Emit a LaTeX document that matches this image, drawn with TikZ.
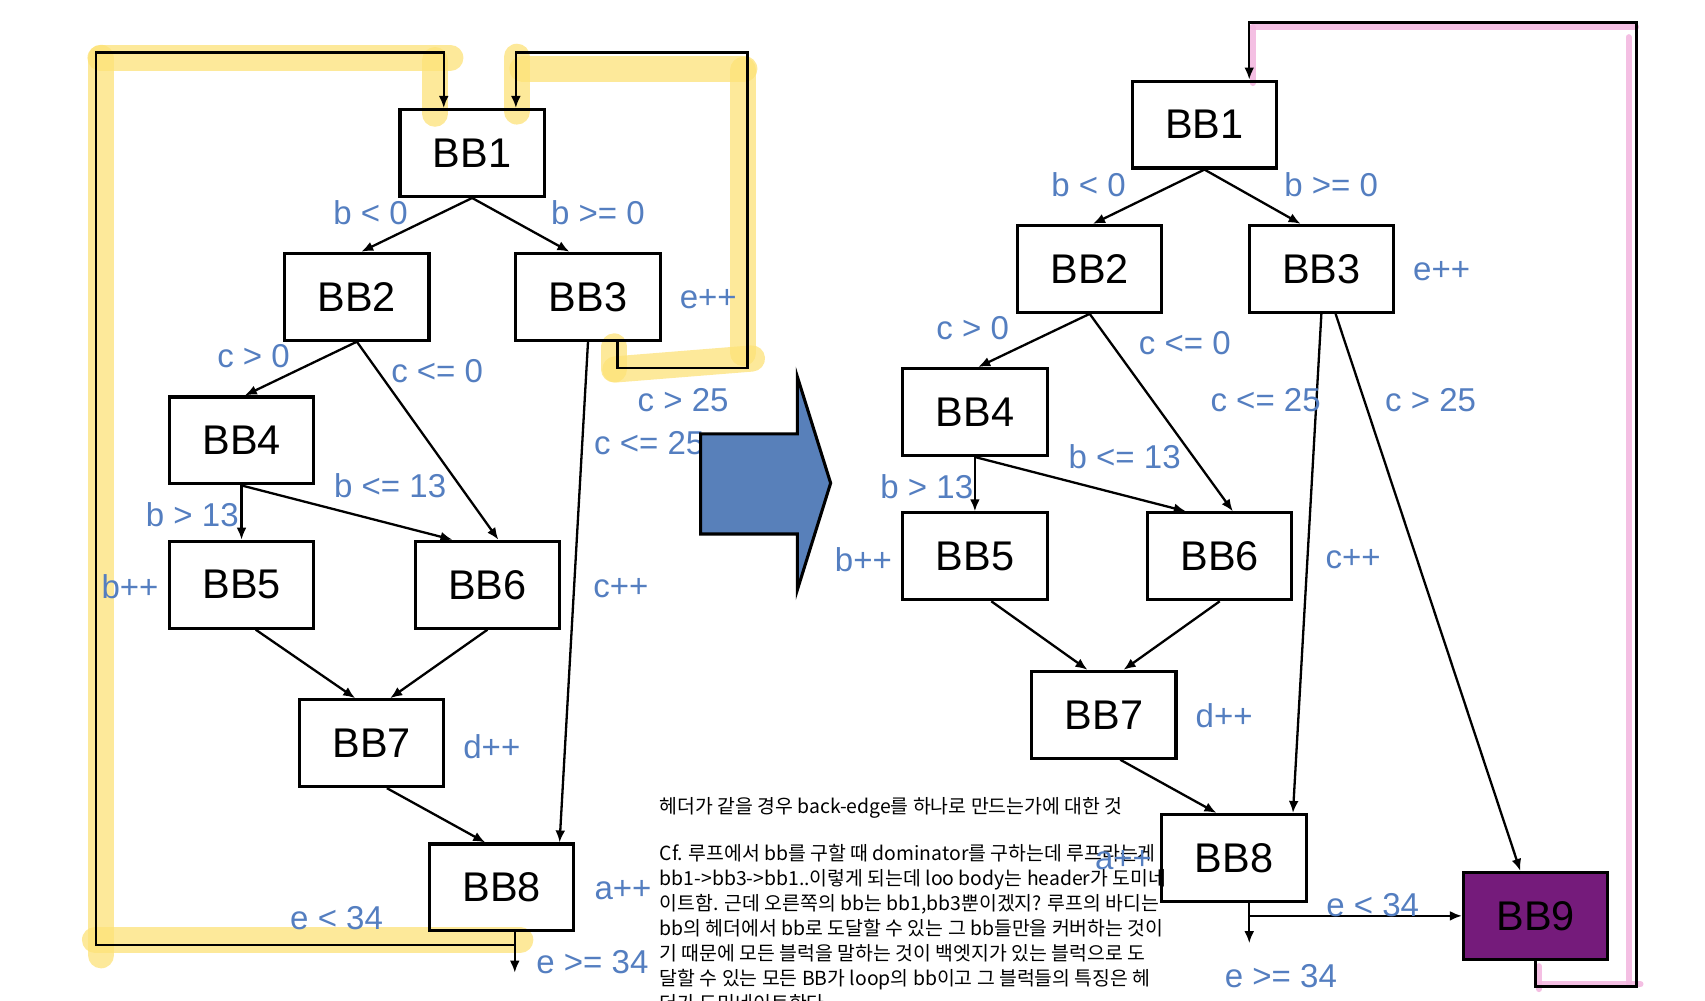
\documentclass[tikz,border=0pt]{standalone}
\usepackage{fontspec}
\setmainfont{Liberation Sans}
\newfontfamily\kr{Noto Sans CJK KR}
\usetikzlibrary{arrows.meta,calc}
\definecolor{lblue}{RGB}{84,126,192}
\definecolor{arrowblue}{RGB}{88,128,186}
\definecolor{bbpurple}{RGB}{117,27,123}
\definecolor{hlyellow}{RGB}{253,226,120}
\definecolor{hlpink}{RGB}{242,180,222}
\begin{document}
\begin{tikzpicture}[x=0.1mm,y=-0.1mm,
  bb/.style={draw,line width=0.8pt,minimum width=13.2mm,minimum height=7.95mm,inner sep=0pt,font=\fontsize{10.8}{12}\selectfont},
  lbl/.style={text=lblue,font=\fontsize{8.6}{10}\selectfont,inner sep=0pt},
  edge/.style={line width=0.6pt,-{Latex[length=1.1mm,width=0.9mm]}},
  hl/.style={line width=2.4mm,draw=hlyellow,opacity=0.75,line cap=round,line join=round},
  pk/.style={line width=0.55mm,draw=hlpink,opacity=0.85,line cap=round,line join=round},
]
\useasboundingbox (0,0) rectangle (1560,915);
\clip (0,0) rectangle (1560,915);

% ---------- yellow highlights (left) ----------
\draw[hl] (92.5,53) -- (92.5,874);
\draw[hl] (92,53) -- (412,53);
\draw[hl] (398,55) -- (398,104);
\draw[hl] (87,860) -- (476,860);
\draw[hl] (473,52) -- (473,102);
\draw[hl] (478,63) -- (681,63);
\draw[hl] (680,64) -- (680,323);
\draw[hl] (563,338) -- (688,328);
\draw[hl] (562,317) -- (562,338);

% ---------- pink highlights (right) ----------
\draw[pk] (1146,24.5) -- (1497,24.5);
\draw[pk] (1146,25) -- (1146,76);
\draw[pk] (1490,34) -- (1490,900);
\draw[pk] (1406,900.5) -- (1501,900.5);
\draw[pk] (1408,884) -- (1408,905);

% ---------- left graph ----------
\node[bb] (l1) at (432,140) {BB1};
\node[bb] (l2) at (326.5,271.5) {BB2};
\node[bb] (l3) at (538,271.5) {BB3};
\node[bb] (l4) at (221,403) {BB4};
\node[bb] (l5) at (221,535) {BB5};
\node[bb] (l6) at (446,535) {BB6};
\node[bb] (l7) at (340,680) {BB7};
\node[bb] (l8) at (459,812) {BB8};

\draw[edge] (l1.south) -- ($(l2.north)+(4,0)$);
\draw[edge] (l1.south) -- ($(l3.north)+(-17,0)$);
\draw[edge] (l2.south) -- ($(l4.north)+(3,0)$);
\draw[edge] (l2.south) -- ($(l6.north)+(10,0)$);
\draw[edge] (l4.south) -- (l5.north);
\draw[edge] (l4.south) -- ($(l6.north)+(-32,0)$);
\draw[edge] ($(l5.south)+(13,0)$) -- ($(l7.north)+(-15,0)$);
\draw[edge] (l6.south) -- ($(l7.north)+(17,0)$);
\draw[edge] ($(l7.south)+(14,0)$) -- ($(l8.north)+(-15,0)$);
\draw[edge] (l3.south) -- ($(l8.north)+(53,0)$);

\coordinate (lend) at (471,890);
\coordinate (lb0) at (471,864.5);
\coordinate (lc1) at (88,864.5);
\coordinate (lc2) at (88,48);
\coordinate (lc3) at (406,48);
\draw[edge] ($(l8.south)+(12,0)$) -- (lend);
\draw[edge] (lb0) -- (lc1) -- (lc2) -- (lc3) -- ($(l1.north)+(-26,0)$);

\coordinate (lr0) at (565,337);
\coordinate (lr1) at (684,337);
\coordinate (lr2) at (684,48);
\coordinate (lr3) at (472,48);
\draw[edge] ($(l3.south)+(27,0)$) -- (lr0) -- (lr1) -- (lr2) -- (lr3) -- ($(l1.north)+(40,0)$);

\node[lbl] at (339,195) {b < 0};
\node[lbl] at (547,195) {b >= 0};
\node[lbl] at (648,274) {e++};
\node[lbl] at (232,326) {c > 0};
\node[lbl] at (400,340) {c <= 0};
\node[lbl] at (625,366) {c > 25};
\node[lbl] at (594,405) {c <= 25};
\node[lbl] at (357,444) {b <= 13};
\node[lbl] at (176,471) {b > 13};
\node[lbl] at (119,537) {b++};
\node[lbl] at (568,538) {c++};
\node[lbl] at (450,683) {d++};
\node[lbl] at (570,814) {a++};
\node[lbl] at (308,840) {e < 34};
\node[lbl] at (542,880) {e >= 34};

% ---------- big arrow ----------
\draw[fill=arrowblue,line width=0.8pt,line join=miter]
  (641,397) -- (729.5,397) -- (729.5,344.6) -- (760,442) -- (729.5,539.8) -- (729.5,488.6) -- (641,488.6) -- cycle;

% ---------- right graph ----------
\node[bb] (r1) at (1102,114) {BB1};
\node[bb] (r2) at (997,246) {BB2};
\node[bb] (r3) at (1209,246) {BB3};
\node[bb] (r4) at (892,377) {BB4};
\node[bb] (r5) at (892,509) {BB5};
\node[bb] (r6) at (1116,509) {BB6};
\node[bb] (r7) at (1010,654) {BB7};
\node[bb] (r8) at (1129,785) {BB8};
\node[bb,fill=bbpurple] (r9) at (1405,838) {BB9};

\draw[edge] (r1.south) -- ($(r2.north)+(3,0)$);
\draw[edge] (r1.south) -- ($(r3.north)+(-19,0)$);
\draw[edge] (r2.south) -- ($(r4.north)+(3,0)$);
\draw[edge] (r2.south) -- ($(r6.north)+(12,0)$);
\draw[edge] (r4.south) -- (r5.north);
\draw[edge] (r4.south) -- ($(r6.north)+(-31,0)$);
\draw[edge] ($(r5.south)+(15,0)$) -- ($(r7.north)+(-15,0)$);
\draw[edge] (r6.south) -- ($(r7.north)+(18,0)$);
\draw[edge] ($(r7.south)+(15,0)$) -- ($(r8.north)+(-16,0)$);
\draw[edge] (r3.south) -- ($(r8.north)+(54,0)$);
\draw[edge] ($(r3.south)+(13,0)$) -- ($(r9.north)+(-14,0)$);

\coordinate (rend) at (1143,863);
\coordinate (rsplit) at (1143,838);
\draw[edge] ($(r8.south)+(14,0)$) -- (rend);
\draw[edge] (rsplit) -- (r9.west);

\coordinate (rc1) at (1405,902.7);
\coordinate (rc2) at (1497.4,902.7);
\coordinate (rc3) at (1497.4,20.7);
\coordinate (rc4) at (1143,20.7);
\draw[edge] (r9.south) -- (rc1) -- (rc2) -- (rc3) -- (rc4) -- ($(r1.north)+(41,0)$);

\node[lbl] at (996,169) {b < 0};
\node[lbl] at (1218,169) {b >= 0};
\node[lbl] at (1319,248) {e++};
\node[lbl] at (890,300) {c > 0};
\node[lbl] at (1084,314) {c <= 0};
\node[lbl] at (1158,366) {c <= 25};
\node[lbl] at (1309,366) {c > 25};
\node[lbl] at (1029,418) {b <= 13};
\node[lbl] at (848,445) {b > 13};
\node[lbl] at (790,512) {b++};
\node[lbl] at (1238,512) {c++};
\node[lbl] at (1120,655) {d++};
\node[lbl] at (1256,828) {e < 34};
\node[lbl] at (1172,893) {e >= 34};

% ---------- note text ----------
\node[anchor=base west,align=left,inner sep=0pt,font=\kr\fontsize{5.05}{6.52}\selectfont] (note) at (603,924.5)
{헤더가 같을 경우 back-edge를 하나로 만드는가에 대한 것\\[5.7pt]
Cf. 루프에서 bb를 구할 때 dominator를 구하는데 루프라는게\\
bb1->bb3->bb1..이렇게 되는데 loo body는 header가 도미네\\
이트함. 근데 오른쪽의 bb는 bb1,bb3뿐이겠지? 루프의 바디는\\
bb의 헤더에서 bb로 도달할 수 있는 그 bb들만을 커버하는 것이\\
기 때문에 모든 블럭을 말하는 것이 백엣지가 있는 블럭으로 도\\
달할 수 있는 모든 BB가 loop의 bb이고 그 블럭들의 특징은 헤\\
더가 도미네이트한다.};

\node[lbl] at (1028,787) {a++};
\end{tikzpicture}
\end{document}
